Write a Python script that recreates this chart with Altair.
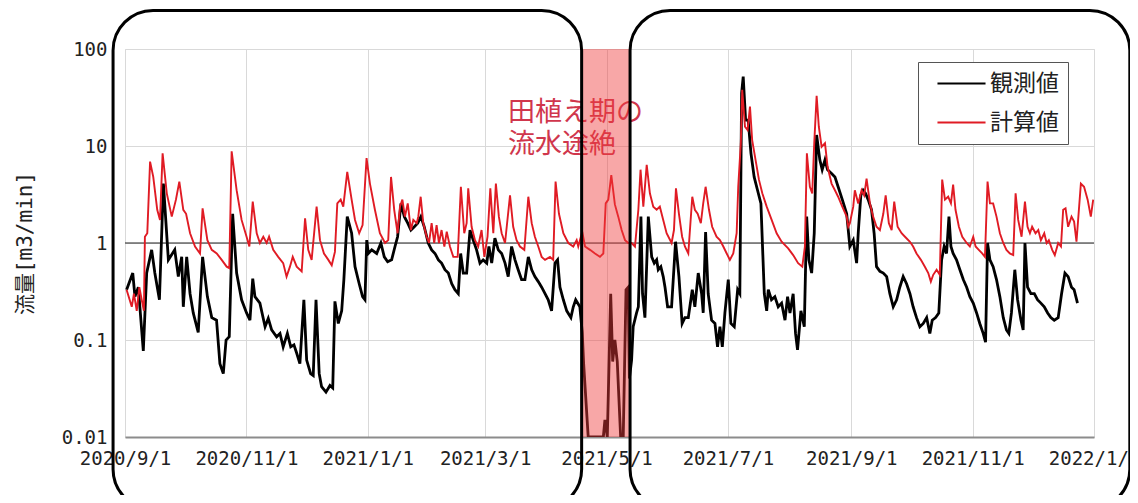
import altair as alt
import pandas as pd

# ---------------- data ----------------
START = "2020-09-01"          # day 0 of the day offsets below

# 観測値 (observed flow, m3/min); x = days after 2020-09-01
OBS_DAYS = [0.8, 3.9, 5.0, 6.7, 9.2, 10.9, 13.4, 15.0, 17.3, 19.3, 21.8, 25.0, 26.8, 28.5, 29.3,
            31.0, 32.7, 34.3, 36.8, 39.0, 41.4, 43.6, 46.0, 47.7, 49.4, 50.8, 52.4, 54.1, 56.1,
            58.6, 61.1, 62.8, 64.2, 65.3, 67.8, 70.4, 72.0, 73.7, 76.2, 77.9, 79.5, 81.6, 83.3,
            84.9, 86.3, 87.9, 89.9, 91.3, 93.3, 94.6, 96.0, 97.6, 98.8, 101.0, 103.0, 104.4,
            105.5, 107.2, 108.9, 110.0, 111.7, 113.9, 115.6, 117.7, 119.4, 120.6, 121.5, 122.3,
            124.0, 126.5, 128.6, 130.3, 132.0, 134.0, 135.7, 137.0, 138.7, 140.4, 142.1, 143.7,
            145.4, 147.1, 148.7, 150.4, 152.4, 154.1, 155.8, 157.5, 159.1, 160.8, 162.5, 164.2,
            165.8, 167.5, 168.7, 170.0, 171.7, 173.4, 175.0, 176.7, 178.4, 180.0, 181.8, 182.9,
            184.3, 185.9, 187.6, 189.3, 191.0, 192.6, 194.3, 196.0, 197.6, 199.3, 201.0, 202.7,
            204.4, 206.0, 207.7, 209.4, 211.1, 212.7, 214.4, 216.1, 217.4, 218.6, 220.3, 222.0,
            224.1, 225.3, 226.5, 228.6, 229.8, 230.5, 232.8, 240.4, 241.2, 242.4, 244.1, 245.1,
            246.2, 247.4, 249.1, 250.4, 251.8, 252.9, 253.5, 254.6, 255.4, 257.1, 258.0, 259.3,
            260.1, 261.3, 263.0, 264.7, 266.0, 267.2, 268.0, 269.3, 270.5, 271.4, 272.7, 274.7,
            276.7, 278.4, 280.0, 281.4, 283.1, 285.1, 286.4, 288.1, 289.8, 290.6, 291.8, 293.1,
            294.8, 296.5, 297.8, 299.0, 300.2, 301.5, 303.2, 304.5, 306.2, 307.9, 309.0, 309.9,
            310.7, 311.9, 313.2, 314.6, 316.2, 317.9, 319.6, 321.3, 322.5, 323.3, 324.9, 326.6,
            328.3, 330.0, 331.7, 333.0, 334.2, 335.8, 337.0, 338.0, 339.7, 341.4, 342.6, 343.7,
            345.1, 346.4, 347.6, 349.2, 350.4, 351.8, 353.1, 355.1, 356.8, 358.4, 360.5, 362.7,
            364.3, 366.0, 367.7, 368.5, 369.8, 371.0, 372.2, 373.5, 375.2, 376.5, 377.7, 379.4,
            381.1, 382.8, 384.4, 386.1, 387.8, 389.4, 391.1, 392.8, 394.5, 396.1, 397.8, 399.5,
            401.2, 402.9, 404.5, 405.7, 407.4, 409.0, 410.4, 411.7, 412.9, 414.1, 415.1, 416.2,
            417.9, 419.6, 421.3, 423.0, 424.6, 426.3, 428.0, 429.6, 431.3, 432.5, 433.5, 434.7,
            436.3, 438.0, 439.7, 441.4, 443.0, 444.2, 445.5, 447.2, 448.6, 450.3, 451.4, 452.3,
            453.6, 455.3, 457.0, 458.6, 460.3, 462.0, 463.7, 465.3, 467.0, 469.0, 470.7, 472.4,
            474.0, 475.7, 477.0, 478.7]
OBS_VALUES = [0.33, 0.49, 0.28, 0.35, 0.077, 0.49, 0.85, 0.49, 0.26, 4.1, 0.67, 0.85, 0.45, 0.72, 0.22,
              0.72, 0.30, 0.19, 0.12, 0.72, 0.28, 0.17, 0.16, 0.057, 0.045, 0.10, 0.108, 2.0, 0.49,
              0.26, 0.19, 0.16, 0.43, 0.28, 0.24, 0.137, 0.167, 0.127, 0.108, 0.117, 0.085, 0.117, 0.085,
              0.089, 0.073, 0.057, 0.26, 0.062, 0.045, 0.043, 0.26, 0.045, 0.033, 0.029, 0.034, 0.032,
              0.25, 0.148, 0.20, 0.42, 1.87, 1.26, 0.57, 0.38, 0.28, 0.26, 1.07, 0.78,
              0.85, 0.78, 1.0, 0.72, 0.64, 0.67, 0.92, 1.16, 2.56, 1.87, 1.6, 1.36,
              1.47, 1.6, 1.87, 1.47, 1.0, 0.85, 0.78, 0.67, 0.62, 0.53, 0.49, 0.38,
              0.33, 0.30, 0.78, 0.49, 0.49, 1.36, 1.07, 0.85, 0.62, 0.67, 0.62, 0.92,
              0.62, 1.12, 0.85, 0.78, 0.62, 0.45, 0.92, 0.67, 0.53, 0.42, 0.42, 0.72,
              0.53, 0.45, 0.40, 0.35, 0.30, 0.26, 0.20, 0.62, 0.67, 0.35, 0.26, 0.20,
              0.17, 0.22, 0.26, 0.22, 0.12, 0.057, 0.01, 0.01, 0.015, 0.01, 0.30, 0.06,
              0.10, 0.06, 0.01, 0.01, 0.33, 0.35, 0.04, 0.062, 0.137, 0.19, 0.22, 1.87,
              0.30, 0.17, 1.87, 0.72, 0.62, 0.67, 0.53, 0.57, 0.45, 0.35, 0.22, 0.22,
              1.03, 0.45, 0.148, 0.17, 0.17, 0.33, 0.22, 0.49, 0.30, 0.19, 1.3, 0.30,
              0.16, 0.148, 0.085, 0.137, 0.085, 0.19, 0.42, 0.148, 0.137, 0.33, 0.30, 35,
              52, 18.5, 18.5, 8.4, 4.8, 3.5, 2.56, 0.30, 0.20, 0.33, 0.26, 0.28,
              0.22, 0.24, 0.16, 0.28, 0.19, 0.30, 0.117, 0.079, 0.20, 0.137, 1.87, 0.67,
              0.49, 1.26, 13, 7.2, 5.7, 7.2, 5.7, 5.2, 4.8, 3.8, 2.8, 2.0,
              0.92, 1.07, 0.62, 1.26, 3.1, 3.5, 3.25, 2.8, 2.2, 1.26, 0.57, 0.51,
              0.49, 0.45, 0.30, 0.22, 0.26, 0.35, 0.45, 0.38, 0.30, 0.22, 0.17, 0.137,
              0.148, 0.17, 0.117, 0.16, 0.17, 0.19, 0.67, 0.92, 0.78, 1.87, 0.92, 0.78,
              0.67, 0.53, 0.42, 0.35, 0.28, 0.24, 0.19, 0.148, 0.117, 0.095, 1.0, 0.67,
              0.57, 0.42, 0.28, 0.17, 0.127, 0.117, 0.19, 0.53, 0.26, 0.16, 0.127, 1.0,
              0.35, 0.30, 0.30, 0.26, 0.24, 0.22, 0.19, 0.17, 0.16, 0.17, 0.30, 0.49,
              0.45, 0.35, 0.33, 0.24]

# 計算値 (computed flow, m3/min)
CALC_DAYS = [0.8, 3.4, 4.5, 5.9, 7.2, 8.4, 9.5, 10.0, 11.2, 12.6, 14.2, 16.2, 17.6, 18.9, 21.0,
             23.5, 25.6, 27.3, 29.3, 30.7, 32.7, 35.2, 37.7, 39.0, 41.4, 43.6, 46.1, 48.6, 51.1,
             52.4, 53.6, 56.1, 58.6, 61.1, 62.5, 64.2, 66.2, 67.8, 69.5, 71.2, 72.4, 74.5, 77.0,
             79.5, 81.2, 82.9, 84.3, 86.3, 88.8, 90.5, 92.1, 93.8, 96.3, 98.0, 100.0, 102.2,
             103.9, 105.5, 106.7, 108.4, 109.7, 111.7, 113.9, 115.6, 117.7, 119.4, 121.4, 123.1,
             125.6, 128.1, 130.7, 132.3, 133.7, 135.3, 137.0, 138.2, 139.4, 140.7, 142.1, 143.7,
             144.9, 146.6, 147.4, 148.6, 149.9, 151.6, 152.8, 154.1, 155.4, 156.6, 157.8, 159.1,
             160.5, 161.7, 163.3, 165.0, 167.2, 168.8, 170.5, 171.7, 172.5, 174.2, 175.9, 177.5,
             179.2, 180.6, 182.2, 183.6, 185.1, 186.4, 187.9, 189.3, 191.0, 193.5, 195.1, 196.8,
             198.5, 200.7, 202.7, 204.4, 206.0, 207.7, 209.4, 211.1, 213.6, 215.2, 216.4, 218.1,
             220.3, 222.8, 225.3, 227.0, 227.8, 229.8, 231.2, 233.7, 236.2, 238.7, 240.4, 241.6,
             242.9, 244.4, 246.2, 247.9, 249.6, 251.3, 252.9, 254.6, 256.3, 258.0, 259.1, 260.5,
             262.2, 263.8, 265.5, 267.2, 268.8, 270.5, 272.2, 274.7, 275.9, 276.9, 278.4, 280.0,
             281.4, 283.1, 285.1, 286.4, 287.8, 289.4, 290.6, 291.8, 293.5, 295.1, 297.3, 299.0,
             300.7, 302.4, 304.0, 305.7, 307.4, 308.2, 309.5, 310.2, 311.6, 312.9, 314.1, 315.2,
             316.9, 318.6, 320.3, 322.5, 325.0, 327.5, 330.0, 333.3, 335.8, 338.3, 340.4, 341.7,
             342.7, 344.2, 345.4, 346.4, 347.6, 348.7, 350.1, 351.8, 353.1, 355.1, 356.8, 358.4,
             360.5, 362.7, 363.5, 364.3, 366.0, 366.8, 368.5, 370.2, 371.5, 372.7, 374.4, 376.0,
             377.7, 379.4, 381.1, 382.3, 383.9, 385.3, 386.6, 388.3, 390.3, 392.0, 394.5, 396.1,
             397.8, 400.0, 402.0, 403.7, 405.0, 406.2, 407.9, 409.5, 410.7, 412.1, 413.7, 415.1,
             416.2, 417.4, 419.1, 420.8, 423.0, 424.6, 426.3, 427.5, 429.1, 430.8, 432.2, 433.5,
             434.7, 436.3, 438.0, 439.7, 441.4, 443.0, 444.7, 446.4, 447.6, 448.9, 450.6, 452.3,
             453.6, 454.8, 455.9, 457.6, 459.0, 460.3, 462.0, 463.2, 464.3, 466.0, 467.3, 469.0,
             470.4, 471.5, 472.7, 474.0, 475.7, 477.0, 478.2, 480.4, 482.0, 483.8, 485.4, 486.6]
CALC_VALUES = [0.33, 0.22, 0.30, 0.20, 0.35, 0.26, 0.20, 1.16, 1.26, 6.9, 4.8, 2.2, 1.73, 8.4, 3.25,
               1.87, 2.8, 4.3, 2.2, 2.0, 1.26, 0.92, 0.78, 2.28, 1.07, 0.85, 0.78, 0.67, 0.57,
               0.55, 8.8, 3.5, 1.73, 1.16, 0.92, 2.67, 1.26, 1.0, 1.16, 1.0, 1.16, 0.85, 0.72,
               0.62, 0.45, 0.57, 0.72, 0.57, 0.51, 1.8, 0.85, 0.67, 2.37, 1.07, 0.78, 0.67,
               0.59, 0.81, 2.56, 2.8, 2.37, 5.4, 2.8, 1.73, 1.26, 1.53, 7.5, 4.1,
               2.2, 1.26, 1.0, 1.07, 4.8, 2.2, 1.26, 2.37, 2.8, 1.87, 2.56, 1.36,
               1.73, 1.6, 1.87, 3.0, 1.6, 1.16, 1.0, 1.6, 1.0, 1.53, 1.0, 1.36,
               0.92, 1.31, 0.92, 0.72, 0.72, 3.8, 1.26, 1.6, 3.66, 1.47, 1.07, 0.92,
               1.36, 0.72, 1.16, 3.66, 1.26, 4.1, 1.87, 1.26, 1.0, 3.1, 1.47, 1.07,
               0.92, 0.85, 3.0, 1.6, 1.16, 0.92, 0.72, 0.67, 0.72, 0.67, 4.3, 2.0,
               1.26, 1.0, 0.92, 1.07, 0.92, 1.31, 0.92, 0.85, 0.78, 0.72, 0.78, 2.56,
               2.8, 5.0, 2.5, 1.87, 1.36, 1.07, 1.0, 1.0, 0.92, 2.2, 5.7, 2.37,
               6.4, 3.25, 2.37, 2.2, 2.37, 1.73, 1.26, 1.0, 1.36, 3.66, 2.0, 1.16,
               0.92, 0.78, 3.0, 2.2, 2.0, 1.6, 2.56, 3.8, 2.2, 1.47, 1.16, 1.07,
               0.92, 0.78, 0.67, 0.78, 1.26, 3.8, 10.7, 38, 15.8, 14.6, 25.5, 11.5,
               7.2, 4.5, 3.25, 2.37, 1.73, 1.26, 1.03, 0.88, 0.75, 0.62, 0.57, 0.92,
               8.4, 3.8, 3.25, 10.7, 33, 15.8, 9.8, 10.7, 6.1, 4.1, 3.5, 3.0,
               2.37, 1.87, 1.47, 1.6, 2.37, 3.5, 2.56, 3.5, 3.1, 4.6, 2.56, 1.87,
               1.47, 1.36, 2.0, 3.1, 1.6, 1.36, 2.67, 1.47, 1.26, 1.16, 1.03, 0.92,
               0.78, 0.67, 0.57, 0.49, 0.40, 0.47, 0.53, 0.47, 4.5, 2.8, 3.0, 2.56,
               4.0, 2.2, 1.47, 1.16, 1.0, 0.92, 1.16, 0.92, 0.85, 0.78, 0.72, 4.3,
               2.56, 2.56, 1.87, 1.26, 1.0, 0.85, 0.78, 0.75, 3.25, 1.73, 1.16, 2.67,
               1.47, 1.26, 1.47, 1.26, 1.36, 1.07, 1.26, 1.0, 1.07, 0.85, 0.75, 1.0,
               0.92, 2.2, 2.28, 1.47, 1.87, 1.66, 1.03, 4.1, 3.8, 2.8, 1.87, 2.8]

SERIES = ["観測値", "計算値"]
SERIES_COLORS = ["#000000", "#e01b24"]
X_TICKS = [(2020, 9), (2020, 11), (2021, 1), (2021, 3), (2021, 5), (2021, 7),
           (2021, 9), (2021, 11), (2022, 1)]
Y_TICKS = [0.01, 0.1, 1, 10, 100]
Y_DOMAIN = [0.01, 100]
BAND_DATES = ["2021-04-19T00:00", "2021-05-13T00:00"]          # 田植え期 shading
FRAME_STARTS = ["2020-08-26T00:00", "2021-05-12T20:00"]        # rounded outline boxes
FRAME_ENDS = ["2021-04-18T12:00", "2022-01-19T00:00"]
FRAME_TOP, FRAME_BOTTOM = 250, 0.0018
NOTE_LINES = ["田植え期の", "流水途絶"]
NOTE_DATE, NOTE_VALUE = "2021-03-12T12:00", 22

# ---------------- tables ----------------
start = pd.Timestamp(START)
obs = pd.DataFrame({"date": start + pd.to_timedelta(OBS_DAYS, unit="D"),
                    "value": OBS_VALUES, "series": SERIES[0]})
calc = pd.DataFrame({"date": start + pd.to_timedelta(CALC_DAYS, unit="D"),
                     "value": CALC_VALUES, "series": SERIES[1]})
band = pd.DataFrame({"x": [BAND_DATES[0]], "x2": [BAND_DATES[1]],
                     "y": [Y_DOMAIN[1]], "y2": [Y_DOMAIN[0]]})
frames = pd.DataFrame({"x": FRAME_STARTS, "x2": FRAME_ENDS,
                       "y": [FRAME_TOP] * 2, "y2": [FRAME_BOTTOM] * 2})
note = pd.DataFrame({"x": [NOTE_DATE], "y": [NOTE_VALUE]})
one = pd.DataFrame({"v": [1]})

MONO = "DejaVu Sans Mono, Noto Sans CJK JP"
JP = "Noto Sans CJK JP"

x_scale = alt.Scale(domain=[alt.DateTime(year=2020, month=9, date=1),
                            alt.DateTime(year=2022, month=1, date=1)])
y_scale = alt.Scale(type="log", domain=Y_DOMAIN, nice=False)
color_scale = alt.Scale(domain=SERIES, range=SERIES_COLORS)

x_axis = alt.Axis(values=[alt.DateTime(year=y, month=m, date=1) for y, m in X_TICKS],
                  format="%Y/%-m/%-d", title=None, grid=True, gridColor="#d9d9d9",
                  ticks=False, labelFlush=False, labelOverlap=False, labelBound=False,
                  labelFont=MONO, labelFontSize=19, labelColor="#222222", labelPadding=12,
                  domainColor="#8c8c8c", domainWidth=2)
y_axis = alt.Axis(values=Y_TICKS, format="~g", title="流量[m3/min]", grid=True,
                  gridColor="#d9d9d9", ticks=False, domain=False,
                  labelFont=MONO, labelFontSize=19, labelColor="#222222", labelPadding=18,
                  titleFont=MONO, titleFontSize=21, titleFontWeight="normal",
                  titleColor="#222222", titleX=-100, titleY=194, titleAngle=-90,
                  titleBaseline="middle", titleAlign="center")

legend = alt.Legend(title=None, orient="none", legendX=793, legendY=13,
                    symbolType="M-2.09,0H2.09", symbolSize=529, symbolStrokeWidth=2,
                    symbolOffset=22, labelOffset=16,
                    labelFont=JP, labelFontSize=23, labelColor="#222222",
                    padding=9, rowPadding=14, strokeColor="#555555", fillColor="white")

obs_line = alt.Chart(obs).mark_line(clip=True, strokeWidth=2.8).encode(
    x=alt.X("date:T", scale=x_scale, axis=x_axis),
    y=alt.Y("value:Q", scale=y_scale, axis=y_axis),
    color=alt.Color("series:N", scale=color_scale, legend=legend),
)
calc_line = alt.Chart(calc).mark_line(clip=True, strokeWidth=1.9).encode(
    x="date:T", y="value:Q",
    color=alt.Color("series:N", scale=color_scale, legend=legend),
)
unit_rule = alt.Chart(one).mark_rule(color="#222222", strokeWidth=1.2).encode(y="v:Q")
band_rect = alt.Chart(band).mark_rect(color="#f03c3c", opacity=0.45).encode(
    x="x:T", x2="x2:T", y="y:Q", y2="y2:Q")
note_text = alt.Chart(note).mark_text(text=NOTE_LINES, align="left", baseline="middle",
                                      font=JP, fontSize=27, lineHeight=32,
                                      color="#d0364c").encode(x="x:T", y="y:Q")
frame_rects = alt.Chart(frames).mark_rect(fill="white", fillOpacity=0, stroke="black",
                                          strokeWidth=3, cornerRadius=40).encode(
    x="x:T", x2="x2:T", y="y:Q", y2="y2:Q")

chart = alt.layer(unit_rule, obs_line, calc_line, note_text, band_rect, frame_rects).properties(
    width=969, height=388,
    autosize=alt.AutoSizeParams(type="none"),
    padding={"left": 117, "top": 41, "right": 36, "bottom": 58},
).configure_view(stroke="#9a9a9a", strokeWidth=1).configure(background="white")

chart.save("out.html", embed_options={"renderer": "svg", "actions": False})
